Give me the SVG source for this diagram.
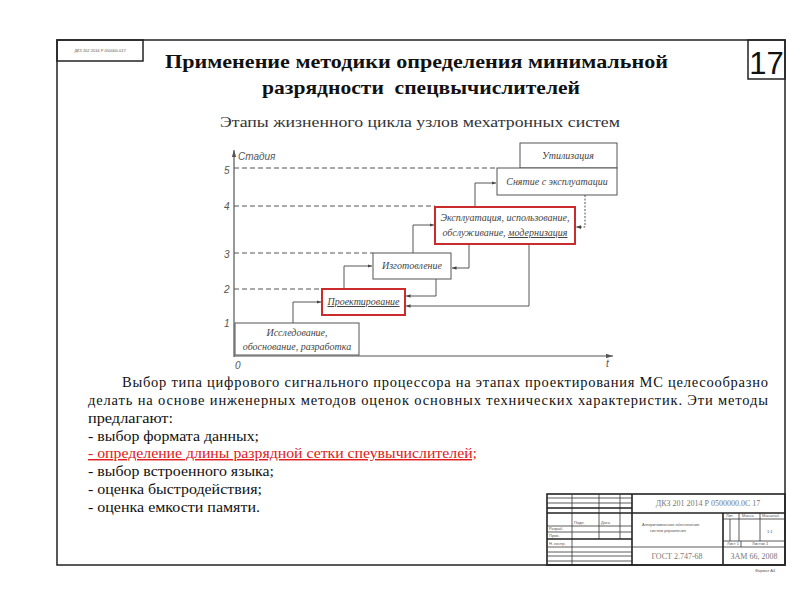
<svg xmlns="http://www.w3.org/2000/svg" width="800" height="600" viewBox="0 0 800 600">
<defs>
<marker id="ah" viewBox="0 0 8 8" refX="8" refY="4" markerWidth="5" markerHeight="5" orient="auto"><path d="M0,1 L8,4 L0,7 z" fill="#444"/></marker>
<marker id="axh" viewBox="0 0 8 8" refX="8" refY="4" markerWidth="6" markerHeight="6" orient="auto"><path d="M0,1.5 L8,4 L0,6.5 z" fill="#555"/></marker>
</defs>
<style>
.frame{fill:none;stroke:#222;stroke-width:1.5}
.tb{fill:none;stroke:#333;stroke-width:0.8}
.tbk{fill:none;stroke:#222;stroke-width:1.6}
.tt{font-family:"Liberation Sans",sans-serif;font-size:4px;fill:#555}
.tm{font-family:"Liberation Serif",serif;font-size:8px;fill:#777}
.title{font-family:"Liberation Serif",serif;font-size:19px;font-weight:bold;fill:#111}
.sub{font-family:"Liberation Serif",serif;font-size:15px;fill:#333}
.body{font-family:"Liberation Serif",serif;font-size:14.5px;fill:#111}
.red{fill:#e02020;text-decoration:underline}
.box{fill:#fff;stroke:#555;stroke-width:1}
.rbox{fill:#fff;stroke:#cc2b2b;stroke-width:2}
.bt{font-family:"Liberation Serif",serif;font-style:italic;font-size:10px;fill:#444;text-anchor:middle}
.ax{font-family:"Liberation Sans",sans-serif;font-style:italic;font-size:10px;fill:#555}
.dash{stroke:#555;stroke-width:1;stroke-dasharray:5,3;fill:none}
.con{stroke:#444;stroke-width:0.9;fill:none;marker-end:url(#ah)}
.dot{stroke:#555;stroke-width:1;stroke-dasharray:2,1.5;fill:none;marker-end:url(#ah)}
</style>
<rect width="800" height="600" fill="#fff"/>
<g id="frame">
<rect class="frame" x="57" y="40" width="728" height="525"/>
<rect class="frame" x="57" y="40" width="86" height="21"/>
<text class="tt" x="100" y="52" text-anchor="middle">ДКЗ 202 2014 Р 050000.017</text>
<rect class="frame" x="748" y="40" width="37" height="39"/>
<text x="766.5" y="74" font-family="Liberation Sans,sans-serif" font-size="31" text-anchor="middle" fill="#111">17</text>
</g>
<g id="title">
<text class="title" x="165" y="68" textLength="503" lengthAdjust="spacingAndGlyphs">Применение методики определения минимальной</text>
<text class="title" x="262" y="94" textLength="318" lengthAdjust="spacingAndGlyphs" xml:space="preserve">разрядности  спецвычислителей</text>
<text class="sub" x="220" y="127" textLength="400" lengthAdjust="spacingAndGlyphs">Этапы жизненного цикла узлов мехатронных систем</text>
</g>
<g id="axes">
<line x1="234" y1="357" x2="234" y2="150" stroke="#555" stroke-width="1.2" marker-end="url(#axh)"/>
<line x1="234" y1="356" x2="613" y2="356" stroke="#555" stroke-width="1.2" marker-end="url(#axh)"/>
<text class="ax" x="238" y="160">Стадия</text>
<text class="ax" x="224" y="174">5</text>
<text class="ax" x="224" y="210">4</text>
<text class="ax" x="224" y="258">3</text>
<text class="ax" x="224" y="293">2</text>
<text class="ax" x="224" y="327">1</text>
<text class="ax" x="235" y="369">0</text>
<text class="ax" x="606" y="367">t</text>
</g>
<g id="connectors">
<line class="dash" x1="234" y1="168" x2="497" y2="168"/>
<line class="dash" x1="234" y1="206" x2="435" y2="206"/>
<line class="dash" x1="234" y1="253" x2="373" y2="253"/>
<line class="dash" x1="234" y1="289" x2="322" y2="289"/>
<polyline class="con" points="293,323 293,302 321,302"/>
<polyline class="con" points="344,289 344,266 372,266"/>
<polyline class="con" points="413,253 413,225 434,225"/>
<polyline class="con" points="475,207 475,183 496,183"/>
<polyline class="con" points="436,279 436,296 406,296"/>
<polyline class="con" points="469,244 469,268 452,268"/>
<polyline class="con" points="529,244 529,306 406,306"/>
<polyline class="dot" points="585,195 585,227 576,227"/>
</g>
<g id="n-util">
<rect class="box" x="520" y="143" width="97" height="25"/>
<text class="bt" x="568" y="159">Утилизация</text>
</g>
<g id="n-snyatie">
<rect class="box" x="497" y="168" width="120" height="27"/>
<text class="bt" x="557" y="185">Снятие с эксплуатации</text>
</g>
<g id="n-expl">
<rect class="rbox" x="435" y="207" width="140" height="37"/>
<text class="bt" x="505" y="221">Эксплуатация, использование,</text>
<text class="bt" x="505" y="236">обслуживание, <tspan text-decoration="underline">модернизация</tspan></text>
</g>
<g id="n-izgot">
<rect class="box" x="373" y="253" width="78" height="26"/>
<text class="bt" x="412" y="269">Изготовление</text>
</g>
<g id="n-proekt">
<rect class="rbox" x="322" y="289" width="83" height="26"/>
<text class="bt" x="363.5" y="305" text-decoration="underline">Проектирование</text>
</g>
<g id="n-issled">
<rect class="box" x="235" y="323" width="124" height="32"/>
<text class="bt" x="297" y="336">Исследование,</text>
<text class="bt" x="297" y="350">обоснование, разработка</text>
</g>
<g id="body">
<text class="body" x="122" y="387" textLength="646" lengthAdjust="spacing">Выбор типа цифрового сигнального процессора на этапах проектирования МС целесообразно</text>
<text class="body" x="88" y="405" textLength="680" lengthAdjust="spacing">делать на основе инженерных методов оценок основных технических характеристик. Эти методы</text>
<text class="body" x="88" y="423" textLength="85" lengthAdjust="spacingAndGlyphs">предлагают:</text>
<text class="body" x="88" y="441" textLength="171" lengthAdjust="spacingAndGlyphs">- выбор формата данных;</text>
<text class="body red" x="88" y="458" textLength="389" lengthAdjust="spacingAndGlyphs">- определение длины разрядной сетки спеувычислителей;</text>
<text class="body" x="88" y="476" textLength="186" lengthAdjust="spacingAndGlyphs">- выбор встроенного языка;</text>
<text class="body" x="88" y="494" textLength="174" lengthAdjust="spacingAndGlyphs">- оценка быстродействия;</text>
<text class="body" x="88" y="512" textLength="172" lengthAdjust="spacingAndGlyphs">- оценка емкости памяти.</text>
</g>
<g id="titleblock">
<rect class="tbk" x="547" y="494" width="238" height="71"/>
<line class="tbk" x1="632" y1="494" x2="632" y2="565"/>
<line class="tb" x1="572" y1="494" x2="572" y2="565"/>
<line class="tb" x1="599" y1="494" x2="599" y2="539"/>
<line class="tb" x1="620" y1="494" x2="620" y2="539"/>
<line class="tb" x1="547" y1="498" x2="632" y2="498"/>
<line class="tb" x1="547" y1="503" x2="632" y2="503"/>
<line class="tbk" x1="547" y1="508" x2="632" y2="508"/>
<line class="tbk" x1="547" y1="513" x2="785" y2="513"/>
<line class="tb" x1="547" y1="526" x2="632" y2="526"/>
<line class="tb" x1="547" y1="532" x2="632" y2="532"/>
<line class="tbk" x1="547" y1="539" x2="632" y2="539"/>
<line class="tb" x1="547" y1="547" x2="785" y2="547"/>
<line class="tb" x1="547" y1="552" x2="632" y2="552"/>
<line class="tb" x1="547" y1="556" x2="632" y2="556"/>
<line class="tb" x1="547" y1="561" x2="632" y2="561"/>
<line class="tbk" x1="723" y1="513" x2="723" y2="565"/>
<line class="tb" x1="723" y1="519" x2="785" y2="519"/>
<line class="tb" x1="739" y1="513" x2="739" y2="541"/>
<line class="tb" x1="760" y1="513" x2="760" y2="541"/>
<line class="tb" x1="730" y1="519" x2="730" y2="541"/>
<line class="tb" x1="723" y1="541" x2="785" y2="541"/>
<line class="tb" x1="741" y1="541" x2="741" y2="547"/>
<text class="tt" x="574" y="524">Подп.</text>
<text class="tt" x="601" y="524">Дата</text>
<text class="tt" x="549" y="530">Разраб.</text>
<text class="tt" x="549" y="537">Пров.</text>
<text class="tt" x="549" y="545">Н. контр.</text>
<text class="tt" x="642" y="526">Алгоритмическое обеспечение</text>
<text class="tt" x="650" y="532">систем управления</text>
<text class="tt" x="726" y="517">Лит.</text>
<text class="tt" x="742" y="517">Масса</text>
<text class="tt" x="762" y="517">Масштаб</text>
<text class="tt" x="767" y="533" font-size="6">1:1</text>
<text class="tt" x="727" y="545">Лист 1</text>
<text class="tt" x="752" y="545">Листов 1</text>
<text class="tm" x="708" y="506" text-anchor="middle">ДКЗ 201 2014 Р 0500000.0С 17</text>
<text class="tm" x="677" y="559" text-anchor="middle" font-size="10">ГОСТ 2.747-68</text>
<text class="tm" x="754" y="559" text-anchor="middle" font-size="10">ЗАМ 66, 2008</text>
<text class="tt" x="755" y="572">Формат А4</text>
</g>
</svg>
